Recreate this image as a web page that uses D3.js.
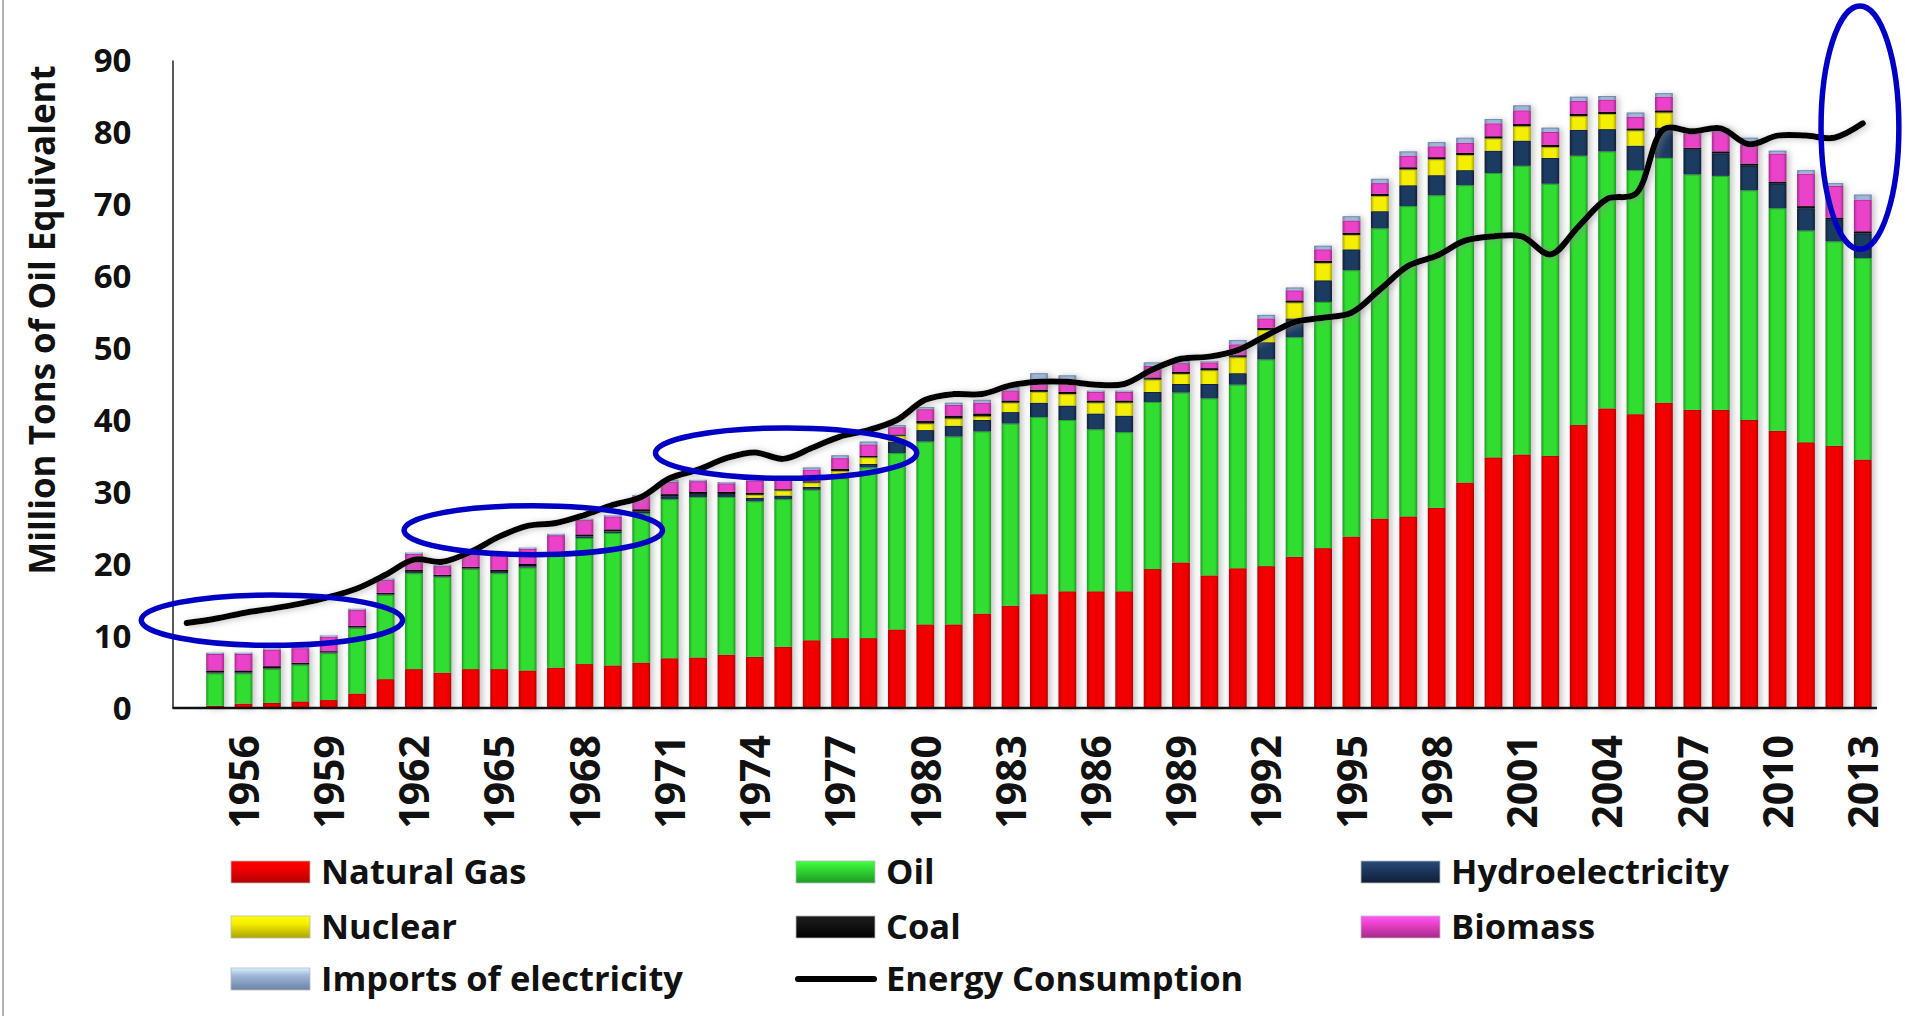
<!DOCTYPE html>
<html lang="en">
<head>
<meta charset="utf-8">
<title>Energy production and consumption</title>
<script src="https://cdn.jsdelivr.net/npm/d3@7"></script>
<style>
  html, body { margin: 0; padding: 0; background: #fff; }
  svg { display: block; }
  text { font-family: "Open Sans", "DejaVu Sans", sans-serif; font-weight: 700; fill: #111; }
</style>
</head>
<body>
<div id="chart"></div>
<script>
// ---- data (Million Tons of Oil Equivalent) ----
var years = d3.range(1955, 2014);
var naturalGas = [0.3,0.6,0.7,0.9,1.1,2.0,4.0,5.4,4.9,5.4,5.4,5.2,5.6,6.1,5.9,6.3,6.9,7.0,7.4,7.1,
  8.5,9.4,9.7,9.7,10.9,11.6,11.6,13.1,14.2,15.8,16.2,16.2,16.2,19.3,20.2,18.4,19.4,19.7,21.0,22.2,
  23.8,26.3,26.6,27.8,31.3,34.8,35.2,35.0,39.3,41.6,40.8,42.4,41.4,41.4,40.0,38.5,36.9,36.4,34.5];
var oil = [4.5,4.2,4.7,5.1,6.5,9.1,11.7,13.3,13.3,13.9,13.3,14.3,15.6,17.5,18.4,20.7,22.1,22.3,21.9,21.6,
  20.5,20.9,22.2,23.7,24.5,25.4,26.1,25.3,25.3,24.6,23.8,22.5,22.1,23.2,23.6,24.6,25.5,28.7,30.5,34.2,
  37.0,40.3,43.1,43.4,41.3,39.5,40.1,37.8,37.4,35.7,33.9,34.0,32.7,32.5,31.9,30.9,29.4,28.4,28.0];
var hydro = [0.1,0.1,0.1,0.1,0.1,0.1,0.1,0.2,0.1,0.1,0.2,0.2,0.2,0.2,0.2,0.3,0.4,0.4,0.4,0.5,
  0.5,0.4,0.4,0.5,1.6,1.6,1.5,1.6,1.6,2.0,2.0,2.2,2.3,1.4,1.2,2.0,1.6,2.4,2.6,3.0,
  2.9,2.4,2.9,2.8,2.1,3.1,3.5,3.6,3.6,3.1,3.4,4.2,3.5,3.1,3.4,3.4,3.1,3.0,3.4];
var nuclear = [0,0,0,0,0,0,0,0,0,0,0,0,0,0,0,0,0,0,0,0.4,
  0.7,0.6,0.6,0.9,0.8,0.9,1.0,0.5,1.3,1.5,1.6,1.5,1.8,1.7,1.4,1.9,2.2,1.7,2.2,2.4,
  2.0,2.1,2.2,2.2,2.1,1.7,2.0,1.5,1.9,2.1,2.1,2.1,0,0,0,0,0,0,0];
var coal = [0.3,0.3,0.3,0.2,0.2,0.2,0.2,0.3,0.2,0.2,0.3,0.3,0.3,0.3,0.3,0.3,0.3,0.3,0.3,0.3,
  0.2,0.2,0.3,0.2,0.2,0.4,0.4,0.4,0.3,0.3,0.3,0.3,0.3,0.3,0.3,0.3,0.3,0.3,0.3,0.3,
  0.3,0.3,0.3,0.3,0.3,0.3,0.3,0.3,0.3,0.3,0.3,0.3,0.2,0.3,0.3,0.3,0.3,0.3,0.3];
var biomass = [2.3,2.3,2.3,2.0,2.0,2.2,1.8,2.2,1.2,1.8,2.2,2.1,2.3,2.0,1.8,1.8,1.7,1.5,1.2,1.7,
  1.3,1.6,1.5,1.6,1.0,1.6,1.5,1.5,1.4,1.5,1.4,1.2,1.2,1.6,1.2,0.8,1.5,1.3,1.4,1.6,
  1.7,1.5,1.6,1.5,1.4,1.8,1.9,1.8,1.8,1.7,1.6,1.9,2.0,2.8,2.6,3.9,4.5,4.4,4.4];
var imports = [0.2,0.2,0.2,0.2,0.2,0.2,0.2,0.2,0.2,0.2,0.2,0.2,0.2,0.2,0.2,0.2,0.3,0.2,0.2,0.2,
  0.2,0.3,0.4,0.4,0.3,0.3,0.3,0.4,0.5,0.8,0.9,0.2,0.2,0.5,0.3,0.2,0.6,0.5,0.4,0.5,
  0.6,0.6,0.6,0.6,0.7,0.6,0.7,0.6,0.6,0.5,0.6,0.5,0.5,0.4,1.0,0.4,0.5,0.4,0.7];

var lineYears = d3.range(1954, 2014);
var consumption = [11.8,12.4,13.2,13.8,14.5,15.4,16.6,18.5,20.6,20.3,21.7,23.8,25.3,25.7,26.8,28.2,29.3,31.9,33.1,34.7,
  35.5,34.6,36.1,37.7,38.6,40.0,42.8,43.6,43.6,44.8,45.3,45.3,44.9,45.0,47.0,48.5,48.8,49.7,51.7,53.6,
  54.2,54.9,58.1,61.4,62.8,64.9,65.5,65.5,63.0,66.9,70.7,71.4,80.4,80.1,80.5,78.3,79.5,79.5,79.2,81.2];

var seriesKeys = ["gas", "oil", "hydro", "nuclear", "coal", "biomass", "imports"];
var seriesNames = ["Natural Gas", "Oil", "Hydroelectricity", "Nuclear", "Coal", "Biomass", "Imports of electricity"];
var seriesColors = ["#f20000", "#33dd33", "#1e3a60", "#f4ee00", "#151515", "#ea42c8", "#9fb6d6"];
var seriesEdges = ["#b30000", "#1c9a22", "#0f1f36", "#aaa500", "#000000", "#a52a8c", "#6b83a8"];
var yTicks = [0, 10, 20, 30, 40, 50, 60, 70, 80, 90];
var labelYears = d3.range(1956, 2014, 3);

// hand drawn highlights: [centre year, centre value, half width in years, half height in value]
var highlights = [[1957.0, 12.2, 4.6, 3.5], [1966.2, 24.7, 4.55, 3.4], [1975.1, 35.4, 4.6, 3.5], [2012.9, 80.6, 1.37, 16.9]];

// ---- layout ----
var width = 1905, height = 1016;
var plotLeft = 172.5, plotRight = 1877, plotTop = 60, plotBottom = 708;

var table = years.map(function(yr, i) {
  return { year: yr, gas: naturalGas[i], oil: oil[i], hydro: hydro[i], nuclear: nuclear[i],
           coal: coal[i], biomass: biomass[i], imports: imports[i] };
});
var stacked = d3.stack().keys(seriesKeys)(table);

var svg = d3.select("#chart").append("svg")
  .attr("width", width).attr("height", height);

var defs = svg.append("defs");
seriesKeys.forEach(function(k, i) {
  var g = defs.append("linearGradient").attr("id", "grad-" + k)
    .attr("x1", "0").attr("x2", "1").attr("y1", "0").attr("y2", "0");
  g.append("stop").attr("offset", "0").attr("stop-color", seriesEdges[i]);
  g.append("stop").attr("offset", "0.18").attr("stop-color", seriesColors[i]);
  g.append("stop").attr("offset", "0.82").attr("stop-color", seriesColors[i]);
  g.append("stop").attr("offset", "1").attr("stop-color", seriesEdges[i]);
  var s = defs.append("linearGradient").attr("id", "sw-" + k)
    .attr("x1", "0").attr("x2", "0").attr("y1", "0").attr("y2", "1");
  s.append("stop").attr("offset", "0").attr("stop-color", d3.color(seriesColors[i]).brighter(0.8));
  s.append("stop").attr("offset", "0.35").attr("stop-color", seriesColors[i]);
  s.append("stop").attr("offset", "1").attr("stop-color", seriesEdges[i]);
});
var shadow = defs.append("filter").attr("id", "shadow")
  .attr("x", "-20%").attr("y", "-5%").attr("width", "140%").attr("height", "110%");
shadow.append("feDropShadow").attr("dx", 3).attr("dy", 1).attr("stdDeviation", 3)
  .attr("flood-color", "#888").attr("flood-opacity", 0.5);

// left page border
svg.append("line").attr("x1", 3).attr("x2", 3).attr("y1", 0).attr("y2", height)
  .attr("stroke", "#999").attr("stroke-width", 1.5);

var x = d3.scaleBand().domain(lineYears).range([plotLeft, plotRight])
  .paddingInner(0.37).paddingOuter(0.185);
var xc = function(yr) { return x(yr) + x.bandwidth() / 2; };
var xLin = d3.scaleLinear().domain([1954, 2013]).range([xc(1954), xc(2013)]);
var y = d3.scaleLinear().domain([0, 90]).range([plotBottom, plotTop]);

// bars
var bars = svg.append("g").attr("filter", "url(#shadow)");
bars.selectAll("g.series").data(stacked).enter().append("g")
  .attr("class", "series")
  .attr("fill", function(d) { return "url(#grad-" + d.key + ")"; })
  .each(function(s, si) {
    var g = d3.select(this);
    g.selectAll("rect").data(s.filter(function(d) { return d[1] - d[0] > 0; }))
      .enter().append("rect")
      .attr("x", function(d) { return x(d.data.year); })
      .attr("width", x.bandwidth())
      .attr("y", function(d) { return y(d[1]); })
      .attr("height", function(d) { return y(d[0]) - y(d[1]); });
    g.selectAll("line").data(s.filter(function(d) { return d[1] - d[0] > 0.25; }))
      .enter().append("line")
      .attr("x1", function(d) { return x(d.data.year) + 1; })
      .attr("x2", function(d) { return x(d.data.year) + x.bandwidth() - 1; })
      .attr("y1", function(d) { return y(d[1]) + 0.5; })
      .attr("y2", function(d) { return y(d[1]) + 0.5; })
      .attr("stroke", seriesEdges[si]).attr("stroke-width", 1).attr("opacity", 0.8);
  });

// axes
var yAxis = d3.axisLeft(y).tickValues(yTicks).tickSize(0).tickPadding(41);
var gy = svg.append("g").attr("transform", "translate(" + plotLeft + ",0)").call(yAxis);
gy.select(".domain").attr("stroke", "#222").attr("stroke-width", 1.5);
gy.selectAll("text").attr("font-size", 33).attr("dy", "0.36em");

var xAxis = d3.axisBottom(xLin).tickValues(labelYears).tickSize(0).tickFormat(d3.format("d"));
var gx = svg.append("g").attr("transform", "translate(0," + plotBottom + ")").call(xAxis);
gx.select(".domain").attr("d", "M" + plotLeft + ",0H" + plotRight).attr("stroke", "#111").attr("stroke-width", 2.5);
gx.selectAll("text")
  .attr("font-size", 41)
  .attr("text-anchor", "end")
  .attr("transform", "rotate(-90)")
  .attr("x", -27).attr("y", 0).attr("dy", "0.36em");

svg.append("text")
  .attr("transform", "translate(42," + ((plotTop + 580) / 2) + ") rotate(-90)")
  .attr("text-anchor", "middle").attr("dy", "0.36em")
  .attr("font-size", 35)
  .text("Million Tons of Oil Equivalent");

// consumption line
var line = d3.line()
  .x(function(d, i) { return xLin(lineYears[i]); })
  .y(function(d) { return y(d); })
  .curve(d3.curveCatmullRom.alpha(0.5));
svg.append("path").datum(consumption)
  .attr("d", line)
  .attr("fill", "none").attr("stroke", "#000").attr("stroke-width", 6)
  .attr("stroke-linecap", "round").attr("stroke-linejoin", "round")
  .attr("filter", "url(#shadow)");

// highlight ellipses
svg.append("g").selectAll("ellipse").data(highlights).enter().append("ellipse")
  .attr("cx", function(d) { return xLin(d[0]); })
  .attr("cy", function(d) { return y(d[1]); })
  .attr("rx", function(d) { return xLin(d[0] + d[2]) - xLin(d[0]); })
  .attr("ry", function(d) { return y(d[1] - d[3]) - y(d[1]); })
  .attr("fill", "none").attr("stroke", "#0000c4").attr("stroke-width", 5.5);

// legend
var legendItems = seriesNames.map(function(n, i) { return { name: n, key: seriesKeys[i], line: false }; });
legendItems.push({ name: "Energy Consumption", line: true });
var colX = [231, 796, 1361], rowY = [872, 927, 979];
var legend = svg.append("g").selectAll("g").data(legendItems).enter().append("g")
  .attr("transform", function(d, i) { return "translate(" + colX[i % 3] + "," + rowY[Math.floor(i / 3)] + ")"; });
legend.filter(function(d) { return !d.line; }).append("rect")
  .attr("x", 0).attr("y", -11).attr("width", 79).attr("height", 22)
  .attr("fill", function(d) { return "url(#sw-" + d.key + ")"; })
  .attr("stroke", "#bbb").attr("stroke-width", 0.8);
legend.filter(function(d) { return d.line; }).append("line")
  .attr("x1", 2).attr("x2", 78).attr("y1", 0).attr("y2", 0)
  .attr("stroke", "#000").attr("stroke-width", 6).attr("stroke-linecap", "round");
legend.append("text")
  .attr("x", 90).attr("y", 0).attr("dy", "0.36em")
  .attr("font-size", 34.5)
  .text(function(d) { return d.name; });
</script>
</body>
</html>
